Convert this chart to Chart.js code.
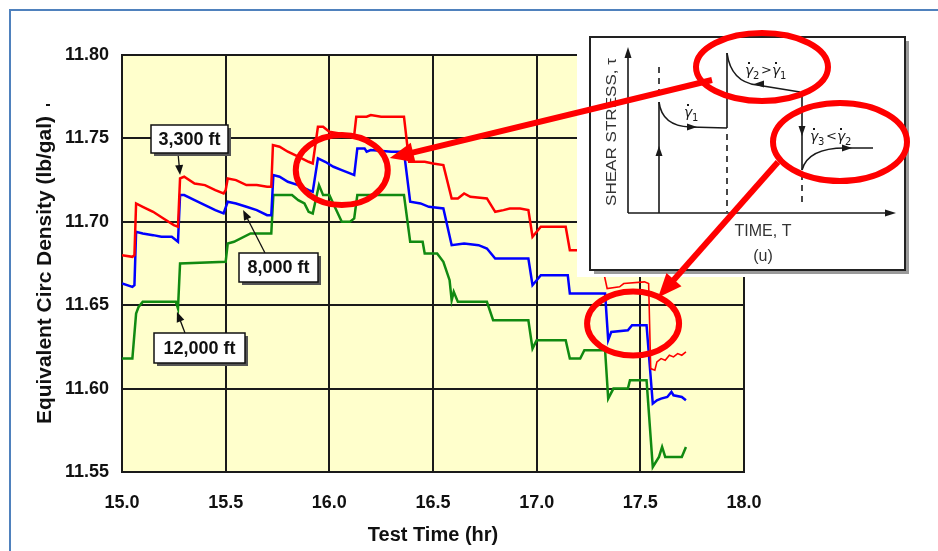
<!DOCTYPE html>
<html>
<head>
<meta charset="utf-8">
<title>Equivalent Circ Density vs Test Time</title>
<script src="https://cdn.jsdelivr.net/npm/chart.js@4.4.0/dist/chart.umd.min.js"></script>
<style>
  html, body { margin: 0; padding: 0; background: #fff; }
  #wrap { position: relative; width: 938px; height: 551px; overflow: hidden; }
  #frame { position: absolute; left: 9px; top: 9px; width: 960px; height: 600px;
           border-top: 2px solid #4f81bd; border-left: 2px solid #4f81bd; }
  #ecdChart { position: absolute; left: 0; top: 0; }
</style>
</head>
<body>
<div id="wrap">
  <div id="frame"></div>
  <canvas id="ecdChart" width="938" height="551"></canvas>
</div>
<script>
// ============ DATA ============

const xTicks = [15.0, 15.5, 16.0, 16.5, 17.0, 17.5, 18.0];
const yTicks = [11.55, 11.60, 11.65, 11.70, 11.75, 11.80];

// 3,300 ft (red)
const time3300 = [15.00, 15.05, 15.06, 15.068, 15.10, 15.15, 15.20, 15.25, 15.27, 15.28,
  15.30, 15.35, 15.40, 15.45, 15.49, 15.50, 15.51, 15.55, 15.60, 15.65,
  15.70, 15.72, 15.728, 15.76, 15.80, 15.85, 15.90, 15.92, 15.945, 15.97,
  16.00, 16.05, 16.10, 16.12, 16.13, 16.18, 16.20, 16.25, 16.36, 16.385,
  16.42, 16.46, 16.50, 16.55, 16.59, 16.62, 16.65, 16.68, 16.76, 16.80,
  16.84, 16.87, 16.92, 16.96, 16.98, 17.00, 17.02, 17.14, 17.16, 17.19,
  17.30, 17.34, 17.40, 17.42, 17.52, 17.54, 17.55, 17.57, 17.58, 17.60,
  17.62, 17.64, 17.66, 17.68, 17.70, 17.72];
const ecd3300 = [11.680, 11.679, 11.680, 11.711, 11.709, 11.706, 11.702, 11.698, 11.697, 11.726,
  11.727, 11.723, 11.722, 11.719, 11.717, 11.719, 11.726, 11.725, 11.722, 11.722,
  11.721, 11.721, 11.746, 11.745, 11.742, 11.739, 11.736, 11.735, 11.757, 11.757,
  11.754, 11.753, 11.752, 11.752, 11.763, 11.763, 11.764, 11.763, 11.763, 11.736,
  11.736, 11.736, 11.735, 11.734, 11.714, 11.714, 11.717, 11.715, 11.714, 11.706,
  11.707, 11.708, 11.708, 11.707, 11.691, 11.694, 11.697, 11.697, 11.683, 11.683,
  11.683, 11.660, 11.661, 11.663, 11.664, 11.663, 11.612, 11.611, 11.616, 11.618,
  11.617, 11.620, 11.619, 11.621, 11.620, 11.622];

// 8,000 ft (blue)
const time8000 = [15.00, 15.05, 15.06, 15.068, 15.10, 15.15, 15.19, 15.24, 15.27, 15.28,
  15.30, 15.35, 15.40, 15.45, 15.49, 15.51, 15.55, 15.60, 15.65, 15.70,
  15.72, 15.73, 15.76, 15.80, 15.85, 15.90, 15.92, 15.945, 15.98, 16.02,
  16.06, 16.10, 16.12, 16.135, 16.17, 16.18, 16.20, 16.30, 16.36, 16.39,
  16.44, 16.48, 16.55, 16.59, 16.65, 16.72, 16.76, 16.80, 16.96, 16.98,
  17.00, 17.02, 17.15, 17.16, 17.33, 17.345, 17.36, 17.44, 17.46, 17.53,
  17.56, 17.58, 17.60, 17.63, 17.65, 17.66, 17.70, 17.72];
const ecd8000 = [11.663, 11.661, 11.662, 11.694, 11.693, 11.692, 11.691, 11.691, 11.688, 11.716,
  11.716, 11.713, 11.710, 11.707, 11.705, 11.712, 11.711, 11.709, 11.707, 11.704,
  11.704, 11.728, 11.727, 11.724, 11.722, 11.719, 11.718, 11.738, 11.736, 11.733,
  11.731, 11.729, 11.728, 11.744, 11.744, 11.742, 11.743, 11.742, 11.742, 11.712,
  11.711, 11.709, 11.708, 11.686, 11.687, 11.686, 11.684, 11.678, 11.678, 11.662,
  11.665, 11.668, 11.668, 11.657, 11.657, 11.629, 11.634, 11.635, 11.638, 11.638,
  11.591, 11.593, 11.594, 11.595, 11.598, 11.596, 11.595, 11.593];

// 12,000 ft (green)
const time12000 = [15.00, 15.05, 15.068, 15.08, 15.10, 15.26, 15.27, 15.28, 15.50, 15.51,
  15.54, 15.62, 15.72, 15.73, 15.82, 15.85, 15.88, 15.90, 15.92, 15.95,
  15.97, 16.00, 16.03, 16.06, 16.10, 16.12, 16.135, 16.36, 16.39, 16.45,
  16.46, 16.52, 16.55, 16.58, 16.59, 16.60, 16.62, 16.76, 16.79, 16.96,
  16.98, 17.00, 17.14, 17.16, 17.21, 17.23, 17.33, 17.345, 17.37, 17.44,
  17.45, 17.53, 17.56, 17.59, 17.605, 17.62, 17.70, 17.72];
const ecd12000 = [11.618, 11.618, 11.645, 11.649, 11.652, 11.652, 11.648, 11.675, 11.676, 11.687,
  11.688, 11.693, 11.693, 11.716, 11.716, 11.713, 11.711, 11.706, 11.705, 11.722,
  11.716, 11.716, 11.708, 11.700, 11.700, 11.702, 11.716, 11.716, 11.688, 11.688,
  11.681, 11.681, 11.676, 11.665, 11.653, 11.658, 11.652, 11.652, 11.641, 11.641,
  11.624, 11.629, 11.629, 11.618, 11.618, 11.623, 11.623, 11.594, 11.600, 11.600,
  11.605, 11.605, 11.553, 11.559, 11.565, 11.559, 11.559, 11.565];

// callout labels and where their arrows point (data coords)
const depthLabels = ['3,300 ft', '8,000 ft', '12,000 ft'];
const labelTargets = [[15.28, 11.728], [15.584, 11.707], [15.265, 11.646]];
// circled regions on the chart (data coords)
const circleCenters = [[16.06, 11.731], [17.465, 11.639]];

const FONT = "'Liberation Sans', Arial, Helvetica, sans-serif";

function toPoints(xs, ys) {
  return xs.map((x, i) => ({ x: x, y: ys[i] }));
}

// ============ DRAW HELPERS ============

function arrowHead(ctx, x, y, angle, len, wid, color) {
  ctx.save();
  ctx.translate(x, y);
  ctx.rotate(angle);
  ctx.beginPath();
  ctx.moveTo(0, 0);
  ctx.lineTo(-len, wid / 2);
  ctx.lineTo(-len, -wid / 2);
  ctx.closePath();
  ctx.fillStyle = color;
  ctx.fill();
  ctx.restore();
}

function arrow(ctx, x1, y1, x2, y2, width, color, len, wid) {
  const a = Math.atan2(y2 - y1, x2 - x1);
  ctx.save();
  ctx.strokeStyle = color;
  ctx.lineWidth = width;
  ctx.beginPath();
  ctx.moveTo(x1, y1);
  ctx.lineTo(x2 - Math.cos(a) * len * 0.8, y2 - Math.sin(a) * len * 0.8);
  ctx.stroke();
  ctx.restore();
  arrowHead(ctx, x2, y2, a, len, wid, color);
}

function calloutBox(ctx, text, x, y, w, h) {
  ctx.save();
  ctx.fillStyle = '#555';
  ctx.fillRect(x + 3, y + 3, w, h);
  ctx.fillStyle = '#fff';
  ctx.fillRect(x, y, w, h);
  ctx.strokeStyle = '#111';
  ctx.lineWidth = 1.5;
  ctx.strokeRect(x, y, w, h);
  ctx.fillStyle = '#111';
  ctx.font = 'bold 18px ' + FONT;
  ctx.textAlign = 'center';
  ctx.textBaseline = 'middle';
  ctx.fillText(text, x + w / 2, y + h / 2 + 1);
  ctx.restore();
}

// stretched text so it covers a given length
function fitText(ctx, text, x, y, len, rot) {
  ctx.save();
  ctx.translate(x, y);
  ctx.rotate(rot);
  const w = ctx.measureText(text).width;
  ctx.scale(len / w, 1);
  ctx.fillText(text, 0, 0);
  ctx.restore();
}

function gammaDot(ctx, x, y, sub) {
  ctx.font = 'italic 14px "DejaVu Sans", sans-serif';
  ctx.textAlign = 'left';
  ctx.textBaseline = 'alphabetic';
  ctx.fillText('\u03B3', x, y);
  ctx.fillRect(x + 3, y - 13, 2, 2);
  ctx.font = '10px "DejaVu Sans", sans-serif';
  ctx.fillText(sub, x + 8, y + 4);
  return x + 15;
}

function drawInset(ctx) {
  ctx.save();
  ctx.fillStyle = '#fff';
  ctx.fillRect(577, 28, 340, 249);
  ctx.fillStyle = '#9a9a9a';
  ctx.fillRect(594, 41, 315, 233);
  ctx.fillStyle = '#fff';
  ctx.fillRect(590, 37, 315, 233);
  ctx.strokeStyle = '#222';
  ctx.lineWidth = 2;
  ctx.strokeRect(590, 37, 315, 233);

  const ink = '#1a1a1a';
  ctx.strokeStyle = ink;
  ctx.fillStyle = ink;
  ctx.lineWidth = 1.6;

  // axes
  ctx.beginPath();
  ctx.moveTo(628, 213); ctx.lineTo(628, 56);
  ctx.moveTo(628, 213); ctx.lineTo(888, 213);
  ctx.stroke();
  arrowHead(ctx, 628, 47, -Math.PI / 2, 11, 7, ink);
  arrowHead(ctx, 896, 213, 0, 11, 7, ink);

  // solid verticals
  ctx.beginPath();
  ctx.moveTo(659, 213); ctx.lineTo(659, 102);
  ctx.moveTo(727, 128); ctx.lineTo(727, 53);
  ctx.moveTo(802, 92); ctx.lineTo(802, 170);
  ctx.stroke();
  arrowHead(ctx, 659, 146, -Math.PI / 2, 10, 7, ink);
  arrowHead(ctx, 802, 136, Math.PI / 2, 10, 7, ink);

  // dashed verticals
  ctx.setLineDash([6, 5]);
  ctx.beginPath();
  ctx.moveTo(659, 67); ctx.lineTo(659, 100);
  ctx.moveTo(727, 134); ctx.lineTo(727, 212);
  ctx.moveTo(802, 174); ctx.lineTo(802, 204);
  ctx.stroke();
  ctx.setLineDash([]);

  // relaxation curves
  ctx.beginPath();
  ctx.moveTo(659, 102);
  ctx.quadraticCurveTo(662, 126, 690, 127);
  ctx.lineTo(727, 128);
  ctx.moveTo(727, 53);
  ctx.quadraticCurveTo(731, 82, 757, 85);
  ctx.lineTo(800, 92);
  ctx.moveTo(802, 170);
  ctx.quadraticCurveTo(808, 148, 845, 148);
  ctx.lineTo(873, 148);
  ctx.stroke();
  arrowHead(ctx, 697, 127, 0, 10, 7, ink);
  arrowHead(ctx, 754, 84, Math.PI, 10, 7, ink);
  arrowHead(ctx, 852, 148, 0, 10, 7, ink);

  // labels
  gammaDot(ctx, 684, 117, '1');
  let x = gammaDot(ctx, 745, 75, '2');
  ctx.font = '13px "DejaVu Sans", sans-serif';
  ctx.fillText('>', x + 1, 74);
  gammaDot(ctx, x + 12, 75, '1');
  x = gammaDot(ctx, 810, 141, '3');
  ctx.font = '13px "DejaVu Sans", sans-serif';
  ctx.fillText('<', x + 1, 140);
  gammaDot(ctx, x + 12, 141, '2');

  ctx.fillStyle = '#333';
  ctx.font = '16px ' + FONT;
  ctx.textAlign = 'center';
  ctx.textBaseline = 'middle';
  ctx.fillText('TIME, T', 763, 232);
  ctx.fillText('(u)', 763, 257);
  ctx.font = '15px ' + FONT;
  fitText(ctx, 'SHEAR STRESS, \u03C4', 612, 132, 148, -Math.PI / 2);
  ctx.restore();
}

// ============ PLUGINS ============

const plotBackground = {
  id: 'plotBackground',
  beforeDraw(chart) {
    const { ctx, chartArea: a } = chart;
    ctx.save();
    ctx.fillStyle = '#ffffcc';
    ctx.fillRect(a.left, a.top, a.right - a.left, a.bottom - a.top);
    ctx.restore();
  }
};

const annotations = {
  id: 'annotations',
  afterDraw(chart) {
    const { ctx } = chart;
    const sx = chart.scales.x, sy = chart.scales.y;
    const px = v => sx.getPixelForValue(v);
    const py = v => sy.getPixelForValue(v);

    // axis titles
    ctx.save();
    ctx.fillStyle = '#111';
    ctx.font = 'bold 20px ' + FONT;
    ctx.textAlign = 'center';
    ctx.textBaseline = 'middle';
    fitText(ctx, 'Equivalent Circ Density (lb/gal)', 45, 270, 308, -Math.PI / 2);
    ctx.fillText('Test Time (hr)', 433, 535);
    ctx.fillRect(46, 104, 4, 2);
    ctx.restore();

    // depth callouts
    const boxes = [[151, 125, 77, 28, 178, 153], [239, 253, 79, 29, 265, 253], [154, 333, 91, 30, 185, 333]];
    depthLabels.forEach((txt, i) => {
      const b = boxes[i];
      const t = labelTargets[i];
      arrow(ctx, b[4], b[5], px(t[0]), py(t[1]), 1.3, '#111', 10, 8);
      calloutBox(ctx, txt, b[0], b[1], b[2], b[3]);
    });

    drawInset(ctx);

    // red circles and arrows
    const red = '#ff0000';
    ctx.save();
    ctx.strokeStyle = red;
    ctx.lineWidth = 6;
    ctx.beginPath();
    ctx.ellipse(px(circleCenters[0][0]), py(circleCenters[0][1]), 46, 35, 0, 0, Math.PI * 2);
    ctx.stroke();
    ctx.beginPath();
    ctx.ellipse(px(circleCenters[1][0]), py(circleCenters[1][1]), 46, 32, 0, 0, Math.PI * 2);
    ctx.stroke();
    ctx.beginPath();
    ctx.ellipse(762, 67, 66, 34, 0, 0, Math.PI * 2);
    ctx.stroke();
    ctx.beginPath();
    ctx.ellipse(840, 142, 67, 39, 0, 0, Math.PI * 2);
    ctx.stroke();
    ctx.restore();

    arrow(ctx, 712, 80, px(circleCenters[0][0]) + 48, py(circleCenters[0][1]) - 12, 6, red, 24, 20);
    arrow(ctx, 778, 162, px(circleCenters[1][0]) + 25, py(circleCenters[1][1]) - 26, 6, red, 24, 20);
  }
};

// ============ CHART ============

const tickFont = { family: FONT, size: 18, weight: 'bold' };

new Chart(document.getElementById('ecdChart'), {
  type: 'line',
  data: {
    datasets: [
      { label: '3,300 ft', data: toPoints(time3300, ecd3300), borderColor: '#ff0000', borderWidth: 2.5,
        segment: { borderWidth: c => (c.p0.parsed.x >= 17.3 ? 1.6 : undefined) } },
      { label: '8,000 ft', data: toPoints(time8000, ecd8000), borderColor: '#0000ff', borderWidth: 2.5 },
      { label: '12,000 ft', data: toPoints(time12000, ecd12000), borderColor: '#118a11', borderWidth: 2.5 }
    ]
  },
  options: {
    responsive: false,
    animation: false,
    devicePixelRatio: 1,
    elements: { point: { radius: 0 }, line: { tension: 0 } },
    layout: { padding: { left: 0, top: 55, right: 194, bottom: 0 } },
    plugins: { legend: { display: false }, tooltip: { enabled: false } },
    scales: {
      x: {
        type: 'linear', min: 15, max: 18,
        afterBuildTicks: s => { s.ticks = xTicks.map(v => ({ value: v })); },
        ticks: { callback: v => v.toFixed(1), font: tickFont, color: '#111', padding: 20 },
        grid: { color: '#1a1a1a', lineWidth: 2, drawTicks: false },
        border: { color: '#1a1a1a', width: 2 },
        afterFit: s => { s.height = 79; }
      },
      y: {
        type: 'linear', min: 11.55, max: 11.80,
        afterBuildTicks: s => { s.ticks = yTicks.map(v => ({ value: v })); },
        ticks: { callback: v => v.toFixed(2), font: tickFont, color: '#111', padding: 13 },
        grid: { color: '#1a1a1a', lineWidth: 2, drawTicks: false },
        border: { color: '#1a1a1a', width: 2 },
        afterFit: s => { s.width = 122; }
      }
    }
  },
  plugins: [plotBackground, annotations]
});
</script>
</body>
</html>
